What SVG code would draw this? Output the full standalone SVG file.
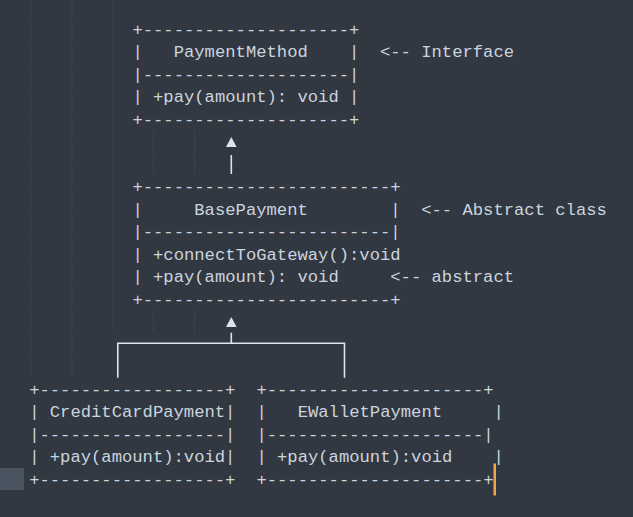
<svg xmlns="http://www.w3.org/2000/svg" width="633" height="517" viewBox="0 0 633 517" xml:space="preserve">
<style>
  text { font-family: "Liberation Mono", "DejaVu Sans Mono", monospace; font-size: 17.21px; fill: #cad4df; white-space: pre; }
  .guide { stroke: #4d545e; stroke-width: 1; stroke-dasharray: 1 2; fill: none; }
  .conn { stroke: #dde3ea; stroke-width: 1.6; fill: none; }
  .head { fill: #dde3ea; }
</style>
<rect x="0" y="0" width="633" height="517" fill="#323841"/>
<g id="indent-guides">
  <line class="guide" x1="30.7" y1="0" x2="30.7" y2="377.7"/>
  <line class="guide" x1="71.9" y1="0" x2="71.9" y2="377.7"/>
  <line class="guide" x1="113" y1="0" x2="113" y2="332.7"/>
  <line class="guide" x1="153.4" y1="130.2" x2="153.4" y2="175.2"/>
  <line class="guide" x1="194.5" y1="130.2" x2="194.5" y2="175.2"/>
  <line class="guide" x1="153.4" y1="310.2" x2="153.4" y2="332.7"/>
  <line class="guide" x1="194.5" y1="310.2" x2="194.5" y2="332.7"/>
</g>
<rect x="0" y="468" width="24" height="22" fill="#4a5561"/>
<g id="PaymentMethod">
  <text x="132.43" y="34.5">+--------------------+</text>
  <text x="132.43" y="57">|   PaymentMethod    |  &lt;-- Interface</text>
  <text x="132.43" y="79.5">|--------------------|</text>
  <text x="132.43" y="102">| +pay(amount): void |</text>
  <text x="132.43" y="124.5">+--------------------+</text>
</g>
<g id="BasePayment">
  <text x="132.43" y="192">+------------------------+</text>
  <text x="132.43" y="214.5">|     BasePayment        |  &lt;-- Abstract class</text>
  <text x="132.43" y="237">|------------------------|</text>
  <text x="132.43" y="259.5">| +connectToGateway():void</text>
  <text x="132.43" y="282">| +pay(amount): void     &lt;-- abstract</text>
  <text x="132.43" y="304.5">+------------------------+</text>
</g>
<g id="CreditCardPayment">
  <text x="29.13" y="394.5">+------------------+</text>
  <text x="29.13" y="417">| CreditCardPayment|</text>
  <text x="29.13" y="439.5">|------------------|</text>
  <text x="29.13" y="462">| +pay(amount):void|</text>
  <text x="29.13" y="484.5">+------------------+</text>
</g>
<g id="EWalletPayment">
  <text x="256.39" y="394.5">+---------------------+</text>
  <text x="256.39" y="417">|   EWalletPayment     |</text>
  <text x="256.39" y="439.5">|---------------------|</text>
  <text x="256.39" y="462">| +pay(amount):void    |</text>
  <text x="256.39" y="484.5">+---------------------+</text>
</g>
<g id="connectors">
  <polygon class="head" points="231.3,137 226,147 236.6,147"/>
  <line class="conn" x1="231.3" y1="155" x2="231.3" y2="174"/>
  <polygon class="head" points="231.3,317 226,327 236.6,327"/>
  <path class="conn" d="M231.3,332.7 V343.3 M117.8,377.7 V343.3 H344.5 V377.7"/>
</g>
<rect x="493.5" y="463.5" width="2.5" height="32" fill="#f0a548"/>
</svg>
